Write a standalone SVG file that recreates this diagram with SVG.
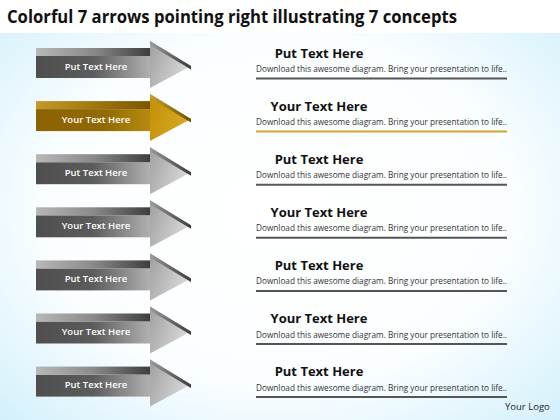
<svg xmlns="http://www.w3.org/2000/svg" width="560" height="420" viewBox="0 0 560 420">
<defs>
<radialGradient id="bg" cx="0.5" cy="0.5" r="0.75">
<stop offset="0" stop-color="#ffffff"/>
<stop offset="0.55" stop-color="#fbfeff"/>
<stop offset="1" stop-color="#cdeefb"/>
</radialGradient>
<linearGradient id="gBody" x1="0" y1="0" x2="1" y2="0">
<stop offset="0" stop-color="#4e4e4e"/>
<stop offset="0.5" stop-color="#5c5c5c"/>
<stop offset="1" stop-color="#b0b0b0"/>
</linearGradient>
<linearGradient id="gTop" x1="0" y1="0" x2="1" y2="0">
<stop offset="0" stop-color="#b8b8b8"/>
<stop offset="0.5" stop-color="#8a8a8a"/>
<stop offset="1" stop-color="#3e3e3e"/>
</linearGradient>
<linearGradient id="gHead" x1="0" y1="0" x2="1" y2="0.4">
<stop offset="0" stop-color="#a0a0a0"/>
<stop offset="1" stop-color="#d8d8d8"/>
</linearGradient>
<linearGradient id="gBev" x1="0" y1="0" x2="1" y2="0">
<stop offset="0" stop-color="#9a9a9a"/>
<stop offset="1" stop-color="#3a3a3a"/>
</linearGradient>
<linearGradient id="yBody" x1="0" y1="0" x2="1" y2="0">
<stop offset="0" stop-color="#8a6200"/>
<stop offset="0.6" stop-color="#926a04"/>
<stop offset="1" stop-color="#b68a10"/>
</linearGradient>
<linearGradient id="yTop" x1="0" y1="0" x2="1" y2="0">
<stop offset="0" stop-color="#c29a2a"/>
<stop offset="0.5" stop-color="#a07810"/>
<stop offset="1" stop-color="#7a5600"/>
</linearGradient>
<linearGradient id="yHead" x1="0" y1="0" x2="1" y2="0.4">
<stop offset="0" stop-color="#c09008"/>
<stop offset="1" stop-color="#d8a820"/>
</linearGradient>
<linearGradient id="yBev" x1="0" y1="0" x2="1" y2="0">
<stop offset="0" stop-color="#c8a030"/>
<stop offset="1" stop-color="#6e5000"/>
</linearGradient>
<g id="grayArrow">
<rect x="36" y="-10" width="114" height="22" fill="url(#gBody)"/>
<rect x="36" y="-18" width="114" height="8" fill="url(#gTop)"/>
<polygon points="150,-25 191,0 150,22" fill="url(#gHead)"/>
<polygon points="150,-25 191,0 191,3.5 150,-21" fill="url(#gBev)"/>
</g>
<g id="goldArrow">
<rect x="36" y="-10" width="114" height="22" fill="url(#yBody)"/>
<rect x="36" y="-18" width="114" height="8" fill="url(#yTop)"/>
<polygon points="150,-25 191,0 150,22" fill="url(#yHead)"/>
<polygon points="150,-25 191,0 191,3.5 150,-21" fill="url(#yBev)"/>
</g>
</defs>
<style>
.title{font-family:"Open Sans","Liberation Sans",sans-serif;font-weight:bold;font-size:18px;fill:#111}
.lab{font-family:"Open Sans","Liberation Sans",sans-serif;font-weight:600;font-size:9.5px;fill:#ffffff;text-anchor:middle}
.head{font-family:"Open Sans","Liberation Sans",sans-serif;font-weight:bold;font-size:13px;fill:#111;text-anchor:middle}
.desc{font-family:"Open Sans","Liberation Sans",sans-serif;font-size:8.2px;fill:#333}
.ln{stroke:#555;stroke-width:2}
.lnY{stroke:#d4a42a;stroke-width:2}
.logo{font-family:"Open Sans","Liberation Sans",sans-serif;font-size:9.5px;fill:#222}
</style>
<rect x="0" y="0" width="560" height="420" fill="url(#bg)"/>
<rect x="0" y="0" width="560" height="33" fill="#ffffff"/>
<text class="title" x="7" y="23" textLength="450" lengthAdjust="spacingAndGlyphs">Colorful 7 arrows pointing right illustrating 7 concepts</text>

<g id="node1" transform="translate(0,66)">
<use href="#grayArrow"/>
<text class="lab" x="96" y="3.5">Put Text Here</text>
<text class="head" x="319" y="-8.5">Put Text Here</text>
<text class="desc" x="256" y="6" textLength="251" lengthAdjust="spacingAndGlyphs">Download this awesome diagram. Bring your presentation to life..</text>
<line class="ln" x1="256" y1="12.5" x2="507" y2="12.5"/>
</g>
<g id="node2" transform="translate(0,119.1)">
<use href="#goldArrow"/>
<text class="lab" x="96" y="3.5">Your Text Here</text>
<text class="head" x="319" y="-8.5">Your Text Here</text>
<text class="desc" x="256" y="6" textLength="251" lengthAdjust="spacingAndGlyphs">Download this awesome diagram. Bring your presentation to life..</text>
<line class="lnY" x1="256" y1="12.5" x2="507" y2="12.5"/>
</g>
<g id="node3" transform="translate(0,172.2)">
<use href="#grayArrow"/>
<text class="lab" x="96" y="3.5">Put Text Here</text>
<text class="head" x="319" y="-8.5">Put Text Here</text>
<text class="desc" x="256" y="6" textLength="251" lengthAdjust="spacingAndGlyphs">Download this awesome diagram. Bring your presentation to life..</text>
<line class="ln" x1="256" y1="12.5" x2="507" y2="12.5"/>
</g>
<g id="node4" transform="translate(0,225.3)">
<use href="#grayArrow"/>
<text class="lab" x="96" y="3.5">Your Text Here</text>
<text class="head" x="319" y="-8.5">Your Text Here</text>
<text class="desc" x="256" y="6" textLength="251" lengthAdjust="spacingAndGlyphs">Download this awesome diagram. Bring your presentation to life..</text>
<line class="ln" x1="256" y1="12.5" x2="507" y2="12.5"/>
</g>
<g id="node5" transform="translate(0,278.4)">
<use href="#grayArrow"/>
<text class="lab" x="96" y="3.5">Put Text Here</text>
<text class="head" x="319" y="-8.5">Put Text Here</text>
<text class="desc" x="256" y="6" textLength="251" lengthAdjust="spacingAndGlyphs">Download this awesome diagram. Bring your presentation to life..</text>
<line class="ln" x1="256" y1="12.5" x2="507" y2="12.5"/>
</g>
<g id="node6" transform="translate(0,331.5)">
<use href="#grayArrow"/>
<text class="lab" x="96" y="3.5">Your Text Here</text>
<text class="head" x="319" y="-8.5">Your Text Here</text>
<text class="desc" x="256" y="6" textLength="251" lengthAdjust="spacingAndGlyphs">Download this awesome diagram. Bring your presentation to life..</text>
<line class="ln" x1="256" y1="12.5" x2="507" y2="12.5"/>
</g>
<g id="node7" transform="translate(0,384.6)">
<use href="#grayArrow"/>
<text class="lab" x="96" y="3.5">Put Text Here</text>
<text class="head" x="319" y="-8.5">Put Text Here</text>
<text class="desc" x="256" y="6" textLength="251" lengthAdjust="spacingAndGlyphs">Download this awesome diagram. Bring your presentation to life..</text>
<line class="ln" x1="256" y1="12.5" x2="507" y2="12.5"/>
</g>
<g id="connectors"></g>
<text class="logo" x="505" y="410">Your Logo</text>
</svg>
